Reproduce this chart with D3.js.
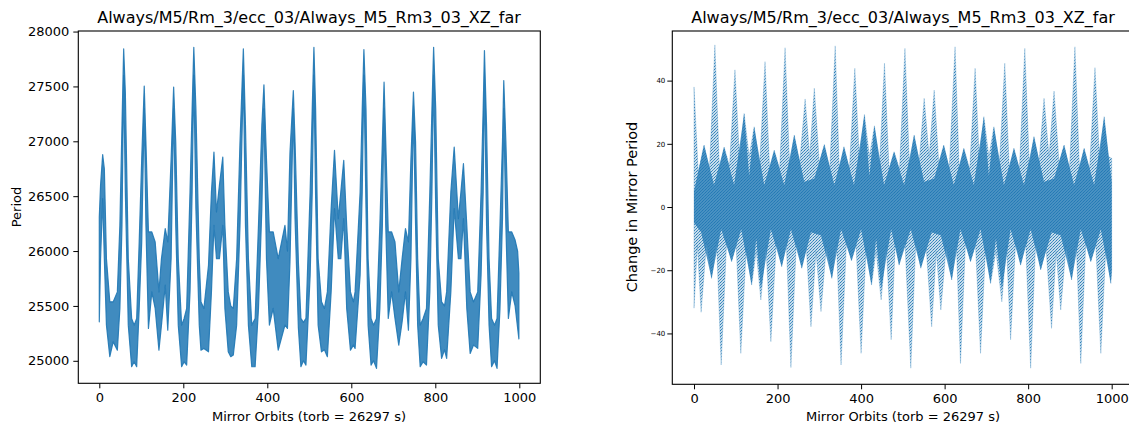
<!DOCTYPE html>
<html><head><meta charset="utf-8">
<script src="https://cdn.jsdelivr.net/npm/d3@7"></script>
<style>html,body{margin:0;padding:0;background:#fff;}svg{display:block;font-family:"DejaVu Sans",sans-serif;}</style>
</head><body><svg id="c" width="1129" height="429"></svg>
<script>
const titleText = "Always/M5/Rm_3/ecc_03/Always_M5_Rm3_03_XZ_far";
const xLabelText = "Mirror Orbits (torb = 26297 s)";
const leftYLabel = "Period";
const rightYLabel = "Change in Mirror Period";
const xTicks = [0, 200, 400, 600, 800, 1000];
const leftYTicks = [25000, 25500, 26000, 26500, 27000, 27500, 28000];
const rightYTicks = [-40, -20, 0, 20, 40];

// Left panel: band of the period signal (upper / lower envelope at knots)
const periodOrbits = [0,3,8,12,17,25,33,43,49,54,58,62,69,77,83,89,95,101,107,111,117,125,133,142,148,157,163,171,177,182,188,196,202,208,216,221,225,230,238,242,249,260,267,273,279,286,294,299,307,313,319,327,335,343,348,355,363,371,379,387,392,398,405,414,426,442,448,454,462,466,474,480,486,492,502,507,511,515,521,529,536,543,552,560,569,575,582,589,598,605,609,621,626,630,635,640,647,653,660,668,674,678,682,688,696,704,713,721,729,736,742,748,753,758,764,771,779,787,792,796,801,807,815,822,827,837,845,855,861,867,875,883,891,901,909,914,917,922,928,934,941,947,954,960,963,968,974,982,990,996,999];
const periodUpper = [26310,26600,26878,26750,25930,25537,25537,25628,26235,27145,27842,27448,25930,25386,25325,25386,26083,26841,27503,26993,26174,26174,26083,25628,25931,26204,26083,26841,27494,26993,25931,25325,25386,25477,26538,27296,27857,27296,25931,25537,25477,25871,26538,26902,26356,26600,26857,26235,25628,25500,25477,25931,26993,27842,27145,25931,25325,25386,26235,27145,27515,26841,26174,26174,25931,26235,26000,26900,27463,27000,25900,25386,25350,25386,26538,27296,27857,27300,25931,25537,25477,25628,26386,26917,26295,26538,26826,26235,25628,25537,25628,26538,27296,27836,27296,25931,25386,25325,25386,26235,27000,27539,27000,26174,26174,26083,25628,25931,26204,26083,26841,27448,26993,25931,25325,25386,25477,26538,27296,27857,27296,25931,25537,25500,25628,26538,26948,26295,26538,26796,26235,25628,25537,25628,26538,27296,27827,27145,25931,25386,25325,25386,26235,27000,27554,27000,26174,26174,26100,26000,25800];
const periodLower = [25355,25930,26477,25930,25325,25037,25173,25097,25477,26235,27600,26538,25325,24946,24991,24946,25477,26083,27296,26235,25295,25628,25477,25097,25325,25689,25279,25931,27296,26235,25325,24946,24991,24961,25628,26538,27600,26386,25325,25097,25113,25082,25628,26235,25931,25931,26235,25477,25082,25037,25052,25325,26235,27600,26235,25325,24946,24946,25477,26386,27296,25931,25325,25477,25097,25325,25295,25900,27300,26300,25300,24946,25000,24961,25780,26538,27600,26500,25325,25082,25100,25037,25628,26386,25931,25931,26295,25477,25097,25143,25113,25780,26538,27600,26386,25325,24961,25000,24931,25477,26235,27300,26235,25386,25628,25386,25143,25355,25628,25279,25931,27296,26235,25325,24946,24991,24961,25628,26538,27600,26386,25325,25022,25100,25022,25628,26386,25931,25931,26295,25477,25067,25143,25113,25780,26538,27600,26235,25325,24946,25000,24931,25477,26300,27300,26235,25386,25628,25500,25300,25200];

// Right panel: outer (sparse) envelope of the change in mirror period
const outerUpperOrbits = [0,10,24,37,50,61,72,85,98,109,120,132,144,157,170,181,192,205,218,229,240,253,266,277,288,300,312,325,338,348,359,372,385,396,408,420,432,444,456,467,479,492,505,516,527,539,551,563,575,586,598,611,625,635,646,660,673,683,694,706,718,731,744,755,766,779,792,803,814,826,838,850,862,874,886,899,912,923,934,947,960,971,982,992,1000];
const outerUpperValues = [38,11,19.6,12,51.3,12,19,13,43.4,15,29.6,16,25.4,13,46,12,18,12,50.4,13,22.8,14,34.2,16,37.6,14,19.8,12,51,12,19.1,12,43.9,15,29.3,16,25.7,13,45.5,12,17.5,12,50.2,13,22.8,14,34.4,16,37,14,19.6,12,50.7,12,18.6,12,43.9,15,28.6,16,25.4,13,45.5,12,18.6,12,50.2,13,22.3,14,34.4,16,36.7,14,19.6,12,50.7,12,18.6,12,44.1,15,28.6,16,15.4];
const outerLowerOrbits = [0,8,17,30,42,54,65,78,90,101,112,125,138,149,160,172,184,197,210,221,232,245,258,269,280,292,304,317,330,341,352,365,377,388,400,412,425,436,448,460,472,482,491,505,519,531,543,556,569,580,591,604,617,628,638,650,662,674,686,698,710,723,737,748,758,770,782,794,806,818,830,843,856,867,878,891,904,915,926,938,950,962,974,986,998,1000];
const outerLowerValues = [-32,-12,-33.3,-11,-22.6,-11,-50,-11,-17.3,-12,-46.3,-13,-24.7,-14,-29.4,-12,-42.6,-11,-18.9,-11,-50.8,-11,-19.4,-13,-37.9,-14,-33.1,-12,-22.6,-11,-50,-11,-17,-12,-46.3,-13,-24.7,-14,-29.4,-12,-42,-11,-18.4,-11,-51,-11,-19.4,-13,-37.9,-14,-32.6,-12,-23.1,-11,-49.5,-11,-17.3,-12,-46.3,-13,-24.2,-14,-30,-12,-42,-11,-18.4,-11,-51,-11,-19.9,-13,-38.4,-14,-32.6,-12,-23.1,-11,-49.5,-11,-17.3,-12,-46.3,-13,-24.2,-20];

// Right panel: dense core lobes
const coreUpperOrbits = [0,24,48,72,96,120,132,144,168,192,216,240,264,288,312,336,359,383,408,420,432,455,479,503,527,551,575,598,622,646,670,694,706,718,742,766,790,814,838,862,886,910,934,958,982,1000];
const coreUpperValues = [5,19.6,7,19,7,29.6,10,25.4,7,18,7,22.8,8,9,19.8,7,19.1,7,29.3,10,25.7,7,17.5,7,22.8,8,9,19.6,7,18.6,7,28.6,10,25.4,7,18.6,7,22.3,8,9,19.6,7,18.6,7,28.6,8];
const coreLowerOrbits = [0,17,42,65,90,113,138,149,160,184,210,232,258,280,304,330,352,377,400,425,436,448,472,491,519,543,569,591,617,638,662,686,710,723,737,758,782,806,830,856,878,904,926,950,974,998,1000];
const coreLowerValues = [-5,-8,-22.6,-7,-17.3,-7,-24.7,-10,-26,-7,-18.9,-7,-19.4,-8,-9,-22.6,-7,-17,-7,-24.7,-10,-26,-7,-18.4,-7,-19.4,-8,-9,-23.1,-7,-17.3,-7,-24.2,-10,-26,-7,-18.4,-7,-19.9,-8,-9,-23.1,-7,-17.3,-7,-24.2,-20];

const BLUE = "#1f77b4";
const svg = d3.select("#c");
svg.append("rect").attr("width",1129).attr("height",429).attr("fill","#fff");

// dotted texture for the sparse scatter regions
const defs = svg.append("defs");
const pat = defs.append("pattern").attr("id","dots").attr("width",3).attr("height",3).attr("patternUnits","userSpaceOnUse");
pat.append("rect").attr("width",3).attr("height",3).attr("fill",BLUE).attr("fill-opacity",0.25);
pat.append("rect").attr("x",0).attr("y",0).attr("width",1).attr("height",1).attr("fill",BLUE).attr("fill-opacity",0.9);
pat.append("rect").attr("x",2).attr("y",1).attr("width",1).attr("height",1).attr("fill",BLUE).attr("fill-opacity",0.7);
pat.append("rect").attr("x",1).attr("y",2).attr("width",1).attr("height",1).attr("fill",BLUE).attr("fill-opacity",0.8);

function envelope(orbits, upper, lower){
  return orbits.map((o,i)=>({o, hi: upper[i], lo: lower[i]}));
}
function knots(orbits, values){ return orbits.map((o,i)=>({o, v: values[i]})); }

function drawAxes(g, x, y, yTicks, opts){
  const [x0,x1] = x.range(), [y1,y0] = y.range();
  const xa = g.append("g").attr("transform",`translate(0,${y1})`)
    .call(d3.axisBottom(x).tickValues(xTicks).tickSize(5).tickPadding(4).tickFormat(d3.format("d")));
  const ya = g.append("g").attr("transform",`translate(${x0},0)`)
    .call(d3.axisLeft(y).tickValues(yTicks).tickSize(opts.yTickSize).tickPadding(opts.yPad).tickFormat(d3.format("d")));
  [xa,ya].forEach(a=>{a.select(".domain").remove(); a.selectAll("line").attr("stroke","#000").attr("stroke-width",1);});
  xa.selectAll("text").attr("font-size",13).attr("fill","#000").attr("font-family","DejaVu Sans");
  ya.selectAll("text").attr("font-size",opts.yFont).attr("fill","#000").attr("font-family","DejaVu Sans");
  g.append("rect").attr("x",x0).attr("y",y0).attr("width",x1-x0).attr("height",y1-y0)
    .attr("fill","none").attr("stroke","#000").attr("stroke-width",1.1);
}

// LEFT
{
  const x = d3.scaleLinear().domain([-50,1050]).range([78.3,540.3]);
  const y = d3.scaleLinear().domain([24795,28005]).range([383.3,31]);
  const g = svg.append("g");
  const data = envelope(periodOrbits, periodUpper, periodLower);
  const area = d3.area().x(d=>x(d.o)).y0(d=>y(d.lo)).y1(d=>y(d.hi)).curve(d3.curveLinear);
  g.append("path").datum(data).attr("d",area).attr("fill",BLUE).attr("fill-opacity",0.85)
    .attr("stroke",BLUE).attr("stroke-width",1.2).attr("stroke-opacity",0.9).attr("stroke-linejoin","round");
  drawAxes(g, x, y, leftYTicks, {yTickSize:5, yPad:4, yFont:13});
  g.append("text").attr("x",309).attr("y",23).attr("text-anchor","middle").attr("font-size",16).text(titleText);
  g.append("text").attr("x",309).attr("y",421).attr("text-anchor","middle").attr("font-size",13).text(xLabelText);
  g.append("text").attr("transform","translate(21,207) rotate(-90)").attr("text-anchor","middle").attr("font-size",13).text(leftYLabel);
}

// RIGHT
{
  const x = d3.scaleLinear().domain([-52,1052]).range([672.3,1133.4]);
  const y = d3.scaleLinear().domain([-56.1,55.7]).range([384.3,31]);
  const g = svg.append("g");
  const line = d3.line().x(d=>x(d.o)).y(d=>y(d.v));
  const outerPts = knots(outerUpperOrbits, outerUpperValues).concat(knots(outerLowerOrbits, outerLowerValues).reverse());
  g.append("path").attr("d", line(outerPts)+"Z")
    .attr("fill","url(#dots)").attr("stroke",BLUE).attr("stroke-opacity",0.3).attr("stroke-width",0.8);
  const corePts = knots(coreUpperOrbits, coreUpperValues).concat(knots(coreLowerOrbits, coreLowerValues).reverse());
  g.append("path").attr("d", line(corePts)+"Z")
    .attr("fill",BLUE).attr("fill-opacity",0.75);
  drawAxes(g, x, y, rightYTicks, {yTickSize:5, yPad:2, yFont:7});
  g.append("text").attr("x",903).attr("y",23).attr("text-anchor","middle").attr("font-size",16).text(titleText);
  g.append("text").attr("x",903).attr("y",421).attr("text-anchor","middle").attr("font-size",13).text(xLabelText);
  g.append("text").attr("transform","translate(637,207) rotate(-90)").attr("text-anchor","middle").attr("font-size",14.5).text(rightYLabel);
}
</script></body></html>
